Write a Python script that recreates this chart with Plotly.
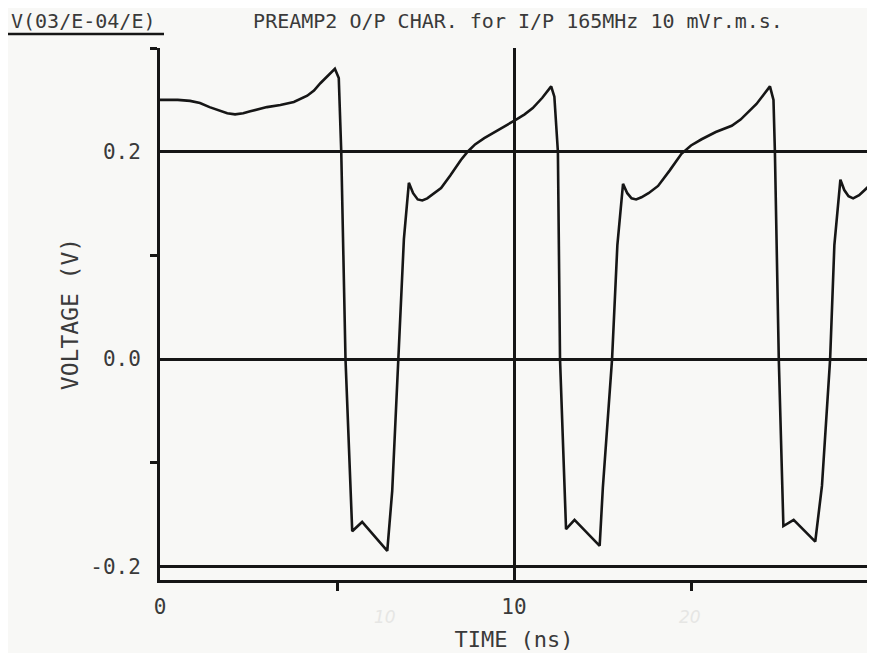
import plotly.graph_objects as go

# Waveform: time (ns) and voltage (V)
time_ns = [
    0.00, 0.50, 0.85, 1.13, 1.40, 1.70, 1.90, 2.12, 2.35, 2.55, 3.02, 3.40, 3.78, 4.16, 4.35,
    4.53, 4.75, 4.94,
    5.05, 5.12, 5.24, 5.43, 5.71, 6.42, 6.56, 6.74, 6.89, 7.03, 7.15, 7.28, 7.41, 7.55,
    7.94, 8.20, 8.50, 8.69, 8.90, 9.16, 9.63, 10.06, 10.30, 10.53, 10.80, 11.05,
    11.14, 11.24, 11.30, 11.47, 11.71, 12.42, 12.51, 12.77, 12.92, 13.08, 13.20, 13.32,
    13.45, 13.60, 13.80, 14.07, 14.40, 14.73, 15.00, 15.30, 15.70, 16.15, 16.40, 16.62,
    16.85, 17.05, 17.23,
    17.33, 17.37, 17.48, 17.61, 17.90, 18.51, 18.70, 18.93, 19.05, 19.22, 19.33, 19.45,
    19.58, 19.75, 20.00,
]
voltage_v = [
    0.250, 0.250, 0.249, 0.247, 0.243, 0.239, 0.237, 0.236, 0.237, 0.239, 0.243, 0.245,
    0.248, 0.254, 0.259, 0.266, 0.273, 0.280,
    0.271, 0.200, 0.000, -0.166, -0.157, -0.185, -0.127, 0.000, 0.116, 0.170, 0.160, 0.154,
    0.153, 0.155, 0.165, 0.177, 0.192, 0.200, 0.207, 0.213, 0.222, 0.231, 0.236, 0.242,
    0.252, 0.263,
    0.253, 0.200, 0.000, -0.164, -0.155, -0.180, -0.124, 0.000, 0.110, 0.169, 0.160, 0.155,
    0.154, 0.156, 0.160, 0.167, 0.182, 0.198, 0.206, 0.212, 0.219, 0.225, 0.231, 0.238,
    0.246, 0.255, 0.263,
    0.250, 0.200, 0.000, -0.161, -0.155, -0.176, -0.122, 0.000, 0.110, 0.173, 0.163, 0.157,
    0.155, 0.158, 0.166,
]

x_major_ticks = [0, 10, 20]
x_major_labels = ["0", "10", "20"]
x_minor_ticks = [5, 15]
y_major_ticks = [-0.2, 0.0, 0.2]
y_major_labels = ["-0.2", "0.0", "0.2"]
y_minor_ticks = [-0.1, 0.1, 0.3]

title_text = "PREAMP2 O/P CHAR. for I/P 165MHz 10 mVr.m.s."
trace_label = "V(03/E-04/E)"
x_title = "TIME (ns)"
y_title = "VOLTAGE (V)"

FONT = "DejaVu Sans Mono"
INK = "#161616"
TXT = "#3a3a3a"
BG = "#f8f8f6"

# the page body adds an 8 px offset; size the figure to fill the window
OFF = 8
W, H = 875 - OFF, 653 - OFF
PL, PT = 160 - OFF, 48 - OFF          # plot-area left / top inside the figure
PW, PH = 708, 532                       # plot-area size
TOP_Y = 21                              # window y of the top texts' centre

fig = go.Figure()
fig.add_trace(go.Scatter(
    x=time_ns, y=voltage_v, mode="lines", name=trace_label,
    line=dict(color=INK, width=2.6), showlegend=False,
))

fig.update_layout(
    width=W, height=H,
    margin=dict(l=PL, r=W - PL - PW, t=PT, b=H - PT - PH),
    paper_bgcolor=BG, plot_bgcolor=BG,
    font=dict(family=FONT, color=TXT, size=20),
    title=dict(text=title_text, x=(518 - OFF) / W, xanchor="center",
               y=1 - (TOP_Y - OFF) / H, yanchor="middle",
               font=dict(family=FONT, size=20, color=TXT)),
    xaxis=dict(
        range=[0, 20], tickmode="array", tickvals=x_major_ticks, ticktext=x_major_labels,
        ticks="", showgrid=True, gridcolor=INK, gridwidth=2.5,
        showline=True, linecolor=INK, linewidth=2.8, zeroline=False,
        tickfont=dict(family=FONT, size=21, color=TXT), ticklabelstandoff=6,
        minor=dict(tickvals=x_minor_ticks, ticks="outside", ticklen=8, tickwidth=2.5,
                   tickcolor=INK, showgrid=False),
        title=dict(text=x_title, font=dict(family=FONT, size=22, color=TXT), standoff=14),
        automargin=False,
    ),
    yaxis=dict(
        range=[-0.213, 0.3], tickmode="array", tickvals=y_major_ticks, ticktext=y_major_labels,
        ticks="", showgrid=True, gridcolor=INK, gridwidth=2.5,
        showline=True, mirror=True, linecolor=INK, linewidth=2.8, zeroline=False,
        tickfont=dict(family=FONT, size=21, color=TXT), ticklabelstandoff=12,
        minor=dict(tickvals=y_minor_ticks, ticks="outside", ticklen=7, tickwidth=2.5,
                   tickcolor=INK, showgrid=False),
        title=dict(text=y_title, font=dict(family=FONT, size=23, color=TXT), standoff=6),
        automargin=False,
    ),
)

# Trace label with underline at the top-left
fig.add_annotation(
    text=trace_label, xref="paper", yref="paper",
    x=(9 - 160) / PW, y=(580 - TOP_Y) / PH, xanchor="left", yanchor="middle",
    showarrow=False, font=dict(family=FONT, size=20, color=TXT),
)
fig.add_shape(
    type="line", xref="paper", yref="paper",
    x0=(8 - 160) / PW, x1=(164 - 160) / PW, y0=(580 - 34) / PH, y1=(580 - 34) / PH,
    line=dict(color=INK, width=2.5),
)

# Faint bleed-through labels visible on the scanned paper
for txt, px in [("10", 385), ("20", 690)]:
    fig.add_annotation(
        text=f"<i>{txt}</i>", xref="paper", yref="paper",
        x=(px - 160) / PW, y=(580 - 617) / PH, xanchor="center", yanchor="middle",
        showarrow=False, font=dict(family="DejaVu Sans", size=17, color="#e6e6e4"),
    )

fig.write_html("out.html")
